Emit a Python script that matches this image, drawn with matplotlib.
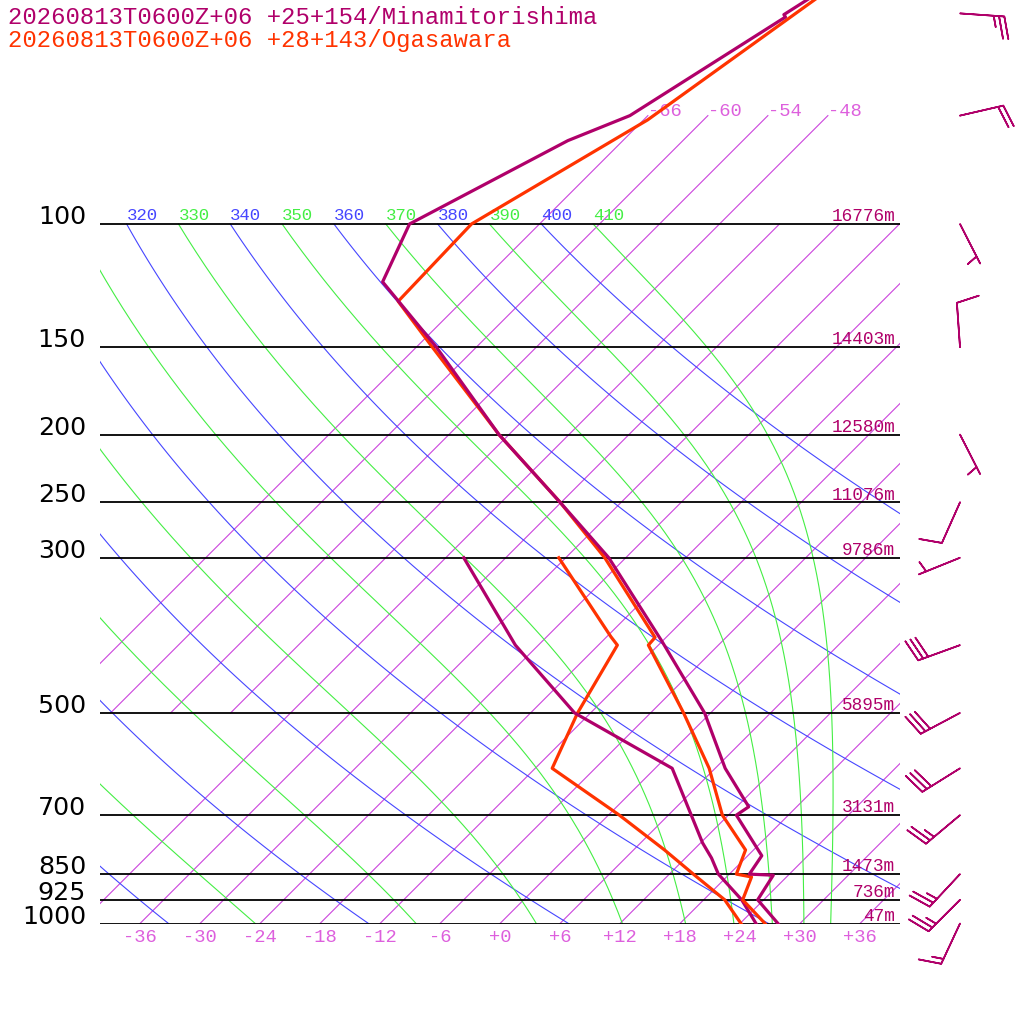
import numpy as np
import matplotlib
matplotlib.use('Agg')
import matplotlib.pyplot as plt

# ---- data ----
p_levels = [1000, 925, 850, 700, 500, 300, 250, 200, 150, 100]
p_labels = ['1000', '925', '850', '700', '500', '300', '250', '200', '150', '100']
heights = ['47m', '736m', '1473m', '3131m', '5895m', '9786m', '11076m', '12580m', '14403m', '16776m']

# Minamitorishima
mina_p = [1000, 925, 853, 850, 800, 700, 681, 600, 500, 396, 300, 250, 200, 150, 121, 100, 76, 70, 50.6, 50.2, 43]
mina_t = [27.8, 23.4, 22.5, 20.0, 19.4, 12.8, 13.2, 7.0, -0.6, -11.9, -25.7, -36.1, -49.0, -64.0, -75.9, -79.0, -71.5, -67.8, -62.1, -62.5, -59.8]
mina_td_p = [1000, 925, 850, 806, 767, 600, 500, 400, 300]
mina_td = [25.6, 21.8, 16.9, 14.6, 12.2, 1.7, -13.6, -26.3, -40.2]

# Ogasawara
oga_p = [1000, 925, 858, 850, 785, 700, 600, 500, 400, 390, 300, 250, 200, 150, 129, 100, 71, 40]
oga_t = [26.5, 21.9, 20.5, 18.7, 17.2, 11.4, 5.4, -2.7, -13.0, -13.1, -26.1, -36.1, -49.0, -64.4, -72.4, -72.8, -65.6, -58.8]
oga_td_p = [1000, 925, 850, 785, 700, 600, 500, 400, 389, 300]
oga_td = [24.1, 20.1, 14.4, 9.1, 1.1, -10.3, -13.3, -16.1, -17.6, -30.7]

# winds (Minamitorishima)
wind_p = [50, 70, 100, 150, 200, 250, 300, 400, 500, 600, 700, 850, 925, 1000]
wind_dir = [94, 77, 153, 356, 153, 204, 248, 250, 242, 238, 230, 223, 225, 205]
wind_kt = [25, 20, 5, 10, 5, 10, 5, 30, 30, 30, 25, 25, 25, 15]

isotherms = list(range(-66, 37, 6))
dry_thetas = list(range(240, 401, 20))
moist_thetas = list(range(250, 411, 20))

MAG = '#b0006a'
RED = '#ff3300'
ISO = '#cc44dd'
ISO_TXT = '#dd5fdd'
BLUE = '#4646ff'
GREEN = '#44ee44'

SKEW = 30.38
RD, CP, LV, EPS = 287.04, 1005.7, 2.501e6, 0.622
KAPPA = RD / CP


def skx(t, p):
    return np.asarray(t, dtype=float) + SKEW * np.log(1000.0 / np.asarray(p, dtype=float))


def dtdp(T, p):
    tc = T - 273.15
    es = 6.112 * np.exp(17.67 * tc / (tc + 243.5))
    rs = EPS * es / (p - es)
    return (RD * T + LV * rs) / (CP + LV * LV * rs * EPS / (RD * T * T)) / p


def moist_adiabat(theta, pp):
    T = theta * (pp[0] / 1000.0) ** KAPPA
    out = [T]
    for i in range(1, len(pp)):
        h = pp[i] - pp[i - 1]
        p0 = pp[i - 1]
        k1 = dtdp(T, p0)
        k2 = dtdp(T + h * k1 / 2, p0 + h / 2)
        k3 = dtdp(T + h * k2 / 2, p0 + h / 2)
        k4 = dtdp(T + h * k3, p0 + h)
        T = T + h * (k1 + 2 * k2 + 2 * k3 + k4) / 6
        out.append(T)
    return np.array(out) - 273.15


fig = plt.figure(figsize=(10.24, 10.24), dpi=100)
ax = fig.add_axes([100 / 1024, (1024 - 923.5) / 1024, 800 / 1024, 923.5 / 1024])
ax.set_yscale('log')
ax.set_xlim(-40, 40)
ax.set_ylim(1000, 1000 * np.exp(-923.5 / 303.8))
ax.axis('off')

mono = 'Liberation Mono'

# isotherms
for t in isotherms:
    p_bot = 500 if -60 <= t <= -48 else 1000
    p_top = 70 if t <= -48 else 100
    pp = np.array([p_bot, p_top])
    ax.plot(skx(t, pp), pp, color=ISO, lw=0.8, zorder=1)
    if t <= -48:
        ax.annotate('{:d}'.format(t), xy=(skx(t, 70), 70), xytext=(0, 0), textcoords='offset points',
                    ha='left', va='baseline', color=ISO_TXT, fontsize=13.5, family=mono)
    if t >= -36:
        ax.annotate('{:+d}'.format(t), xy=(t, 1000), xytext=(0, -10), textcoords='offset points',
                    ha='center', va='center', color=ISO_TXT, fontsize=13.5, family=mono,
                    annotation_clip=False)

# dry adiabats
pp = np.geomspace(1000, 100, 120)
for th in dry_thetas:
    tt = th * (pp / 1000.0) ** KAPPA - 273.15
    ax.plot(skx(tt, pp), pp, color=BLUE, lw=0.8, zorder=1)
    ax.annotate(str(th), xy=(skx(tt[-1], 100), 100), xytext=(0, 3), textcoords='offset points',
                ha='left', va='baseline', color=BLUE, fontsize=12.5, family=mono, clip_on=True)

# moist adiabats
pm = np.geomspace(100, 1000, 300)
for th in moist_thetas:
    tt = moist_adiabat(th, pm)
    ax.plot(skx(tt, pm), pm, color=GREEN, lw=0.8, zorder=1)
    ax.annotate(str(th), xy=(skx(tt[0], 100), 100), xytext=(0, 3), textcoords='offset points',
                ha='left', va='baseline', color=GREEN, fontsize=12.5, family=mono, clip_on=True)

# pressure lines and labels
for p, lab, h in zip(p_levels, p_labels, heights):
    ax.plot([-40, 40], [p, p], color='black', lw=1.3, zorder=3)
    ax.annotate(lab, xy=(-41.4, p), xytext=(0, 0), textcoords='offset points', ha='right',
                va='baseline', fontsize=18.3, color='black', annotation_clip=False)
    ax.annotate(h, xy=(39.5, p), xytext=(0, 2), textcoords='offset points', ha='right',
                va='baseline', fontsize=12.8, color=MAG, family=mono)

# profiles
ax.plot(skx(oga_td, oga_td_p), oga_td_p, color=RED, lw=2.3, zorder=5)
ax.plot(skx(mina_td, mina_td_p), mina_td_p, color=MAG, lw=2.3, zorder=5)
ax.plot(skx(oga_t, oga_p), oga_p, color=RED, lw=2.3, zorder=5)
ax.plot(skx(mina_t, mina_p), mina_p, color=MAG, lw=2.3, zorder=6)

# wind barbs
wd = np.radians(wind_dir)
spd = np.array(wind_kt, dtype=float)
u = -spd * np.sin(wd)
v = -spd * np.cos(wd)
bx = np.full(len(wind_p), 46.0)
b = ax.barbs(bx, wind_p, u, v, length=8, color=MAG, linewidth=1.2, pivot='tip',
             sizes=dict(spacing=0.12, height=0.5, width=0.25), zorder=6)
b.set_clip_on(False)

fig.text(8 / 1024, 1 - 18 / 1024, '20260813T0600Z+06 +25+154/Minamitorishima', color=MAG,
         fontsize=17.2, family=mono, va='center', ha='left')
fig.text(8 / 1024, 1 - 41 / 1024, '20260813T0600Z+06 +28+143/Ogasawara', color=RED,
         fontsize=17.2, family=mono, va='center', ha='left')

fig.savefig('out.png', dpi=100, facecolor='white')
